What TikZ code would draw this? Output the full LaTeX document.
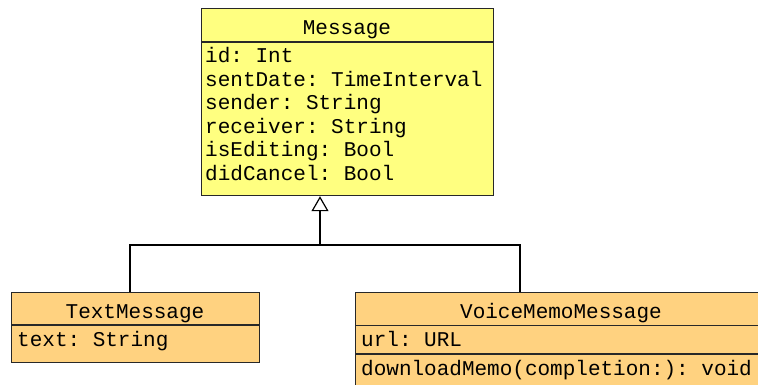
\documentclass[tikz,border=0pt]{standalone}
\usepackage{fontspec}
\setmonofont{Liberation Mono}
\usetikzlibrary{arrows.meta}
\definecolor{msgfill}{RGB}{255,255,128}
\definecolor{subfill}{RGB}{255,210,128}
\definecolor{edge}{RGB}{40,40,40}
\tikzset{
  box/.style={draw=edge, line width=1.2pt, inner sep=0pt, anchor=north west},
  txt/.style={font=\ttfamily\fontsize{21}{23}\selectfont, inner sep=0pt, anchor=base west, text=black},
  ttl/.style={font=\ttfamily\fontsize{21}{23}\selectfont, inner sep=0pt, anchor=base, text=black},
  div/.style={draw=edge, line width=1.2pt},
  conn/.style={draw=black, line width=1.2pt},
  gen/.style={conn, -{Triangle[open, width=17pt, length=15pt]}}
}
\begin{document}
\begin{tikzpicture}[x=1pt,y=1pt]
\useasboundingbox (0,0) rectangle (758,-385);
\clip (0,0) rectangle (758,-385);
% Message
\node[box, fill=msgfill, minimum width=292pt, minimum height=187pt] (msg) at (201,-8) {};
\draw[div] ([yshift=-34pt]msg.north west) -- ([yshift=-34pt]msg.north east);
\node[ttl] (msgt) at (347,-35) {Message};
\node[txt] (m1) at (205,-63) {id: Int};
\node[txt] (m2) at (205,-86.5) {sentDate: TimeInterval};
\node[txt] (m3) at (205,-110) {sender: String};
\node[txt] (m4) at (205,-133.5) {receiver: String};
\node[txt] (m5) at (205,-157) {isEditing: Bool};
\node[txt] (m6) at (205,-180.5) {didCancel: Bool};
% TextMessage
\node[box, fill=subfill, minimum width=248pt, minimum height=70pt] (tm) at (11,-292) {};
\draw[div] ([yshift=-33pt]tm.north west) -- ([yshift=-33pt]tm.north east);
\node[ttl] (tmt) at (135,-318) {TextMessage};
\node[txt] (t1) at (17,-346.5) {text: String};
% VoiceMemoMessage
\node[box, fill=subfill, minimum width=412pt, minimum height=120pt] (vm) at (355,-292) {};
\draw[div] ([yshift=-33.5pt]vm.north west) -- ([yshift=-33.5pt]vm.north east);
\draw[div] ([yshift=-62pt]vm.north west) -- ([yshift=-62pt]vm.north east);
\node[ttl] (vmt) at (561,-318) {VoiceMemoMessage};
\node[txt] (v1) at (361,-346.5) {url: URL};
\node[txt] (v2) at (361,-375) {downloadMemo(completion:): void};
% generalization
\coordinate (j) at (320,-245);
\draw[conn] ([xshift=119pt]tm.north west) |- (j);
\draw[conn] ([xshift=165pt]vm.north west) |- (j);
\draw[gen] (j) -- (msg.south -| j);
\end{tikzpicture}
\end{document}
